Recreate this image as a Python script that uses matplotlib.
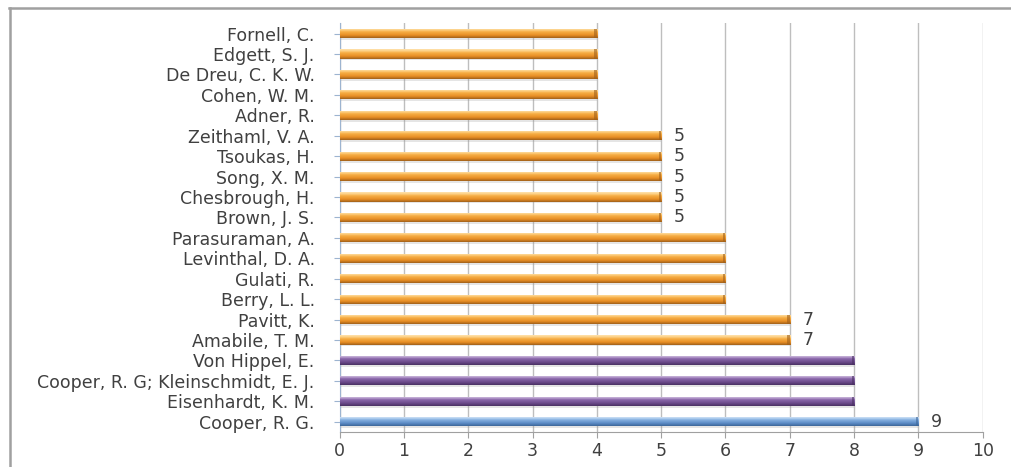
import numpy as np
import matplotlib
matplotlib.use("Agg")
import matplotlib.pyplot as plt
from matplotlib.colors import LinearSegmentedColormap
from matplotlib.patches import Rectangle

# Authors, bottom to top
authors = [
    "Cooper, R. G.",
    "Eisenhardt, K. M.",
    "Cooper, R. G; Kleinschmidt, E. J.",
    "Von Hippel, E.",
    "Amabile, T. M.",
    "Pavitt, K.",
    "Berry, L. L.",
    "Gulati, R.",
    "Levinthal, D. A.",
    "Parasuraman, A.",
    "Brown, J. S.",
    "Chesbrough, H.",
    "Song, X. M.",
    "Tsoukas, H.",
    "Zeithaml, V. A.",
    "Adner, R.",
    "Cohen, W. M.",
    "De Dreu, C. K. W.",
    "Edgett, S. J.",
    "Fornell, C.",
]
counts = [9, 8, 8, 8, 7, 7, 6, 6, 6, 6, 5, 5, 5, 5, 5, 4, 4, 4, 4, 4]
labelled_values = {5, 7, 9}
x_ticks = list(range(0, 11))

# colour gradients (top highlight -> body -> lower shade)
palettes = {
    "blue":   ["#DCEBFA", "#8DB6E4", "#5B8BC6", "#3E6799"],
    "purple": ["#D9C9E6", "#8E6BAE", "#6B4A8A", "#4A3163"],
    "orange": ["#FFE3AE", "#F8B24A", "#E88E24", "#A0601A"],
}


def colour_for(v):
    if v >= 9:
        return "blue"
    if v == 8:
        return "purple"
    return "orange"


fig = plt.figure(figsize=(10.11, 4.67), dpi=100)
fig.patch.set_facecolor("white")
ax = fig.add_axes([0.336, 0.075, 0.636, 0.875])

font = "DejaVu Sans"
fs = 12.5
ypos = np.arange(len(authors))
bar_h = 0.45

# soft shadow beneath each bar
ax.barh(ypos - 0.09, counts, height=bar_h, color="#999999", alpha=0.25,
        zorder=2, linewidth=0)
bars = ax.barh(ypos, counts, height=bar_h, color="#E8932A", zorder=3,
               linewidth=0)

for bar, v in zip(bars, counts):
    cmap = LinearSegmentedColormap.from_list("g", palettes[colour_for(v)][::-1])
    grad = np.interp(np.linspace(0, 1, 64), [0, 0.3, 0.6, 0.8, 1.0],
                     [0.0, 0.35, 0.6, 0.85, 1.0]).reshape(-1, 1)
    x0, y0 = bar.get_x(), bar.get_y()
    w, h = bar.get_width(), bar.get_height()
    im = ax.imshow(grad, cmap=cmap, aspect="auto", origin="lower",
                   extent=[x0, x0 + w, y0, y0 + h], zorder=4,
                   interpolation="bilinear")
    im.set_clip_path(bar)
    # darker cap at the end of the bar
    ax.add_patch(Rectangle((x0 + w - 0.04, y0), 0.04, h,
                           color=palettes[colour_for(v)][3], alpha=0.6,
                           zorder=5, linewidth=0))

for y, v in zip(ypos, counts):
    if v in labelled_values:
        ax.text(v + 0.2, y, str(v), va="center", ha="left", fontsize=fs,
                color="#404040", family=font)

ax.set_xlim(0, 10)
ax.set_ylim(-0.5, len(authors) - 0.5)
ax.set_xticks(x_ticks)
ax.set_xticklabels([str(t) for t in x_ticks], fontsize=fs, color="#404040",
                   family=font)
ax.set_yticks(ypos)
ax.set_yticklabels(authors, fontsize=fs, color="#404040", family=font)
ax.tick_params(axis="y", length=4, color="#9DB4D0", pad=14)
ax.tick_params(axis="x", length=4, color="#A0A0A0", pad=3)

ax.grid(axis="x", color="#BEBEBE", linewidth=1.0, zorder=0)
ax.set_axisbelow(True)
for side in ["top", "right"]:
    ax.spines[side].set_visible(False)
ax.spines["left"].set_color("#9DB4D0")
ax.spines["bottom"].set_color("#A0A0A0")

# outer frame lines on the left and top edge
fig.add_artist(plt.Line2D([0.0100, 0.0100], [0.0, 0.983], color="#A0A0A0",
                          linewidth=1.8, transform=fig.transFigure))
fig.add_artist(plt.Line2D([0.0090, 1.0], [0.983, 0.983], color="#A0A0A0",
                          linewidth=1.8, transform=fig.transFigure))

fig.savefig("out.png", dpi=100, facecolor="white")
